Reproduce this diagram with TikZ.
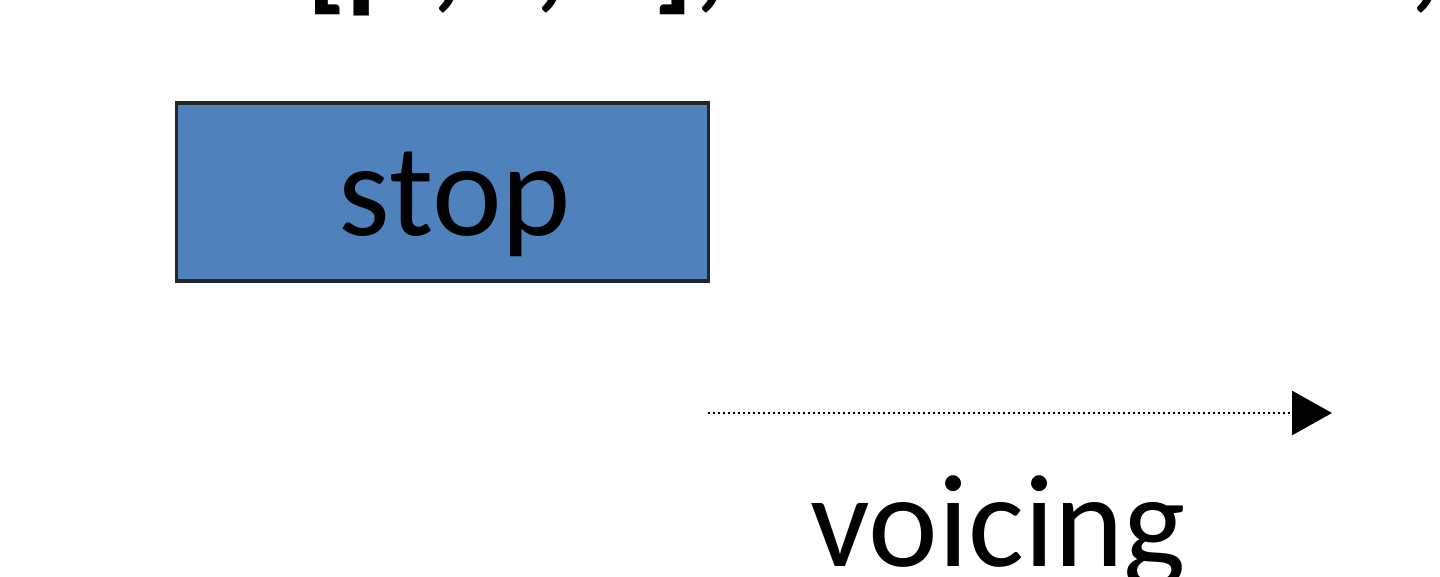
\documentclass[tikz,border=0pt]{standalone}
\usepackage{fontspec}
\setmainfont{Carlito}
\usetikzlibrary{arrows.meta, positioning}

\definecolor{boxblue}{HTML}{4F81BD}
\definecolor{boxline}{HTML}{262626}

\tikzset{
	phonebox/.style={draw=boxline, line width=1.6pt, fill=boxblue, rectangle,
		minimum width=266pt, minimum height=89pt, inner sep=0pt},
	bigtext/.style={font=\fontsize{66}{70}\selectfont, inner sep=0pt},
	toptext/.style={font=\fontsize{62}{66}\selectfont\bfseries, inner sep=0pt},
	axisline/.style={line width=1.4pt, dash pattern=on 1pt off 1.5pt,
		-{Triangle[length=20pt, width=22pt]}}
}

\begin{document}
\begin{tikzpicture}[x=0.5pt, y=-0.5pt]
			\useasboundingbox (0, 0) rectangle (1440, 577);
			\clip (0, 0) rectangle (1440, 577);
			
			\node[toptext, anchor=base west] (example) at (306, -3) {[p\kern9pt, t, k], are voiceless,};
			
			\node[phonebox] (stopbox) at (442.5, 192) {};
			\node[bigtext, anchor=base] (stoplabel) at (455, 236) {stop};
			
			\coordinate (vstart) at (708, 413);
			\coordinate (vend) at (1332, 413);
			\draw[axisline] (vstart) -- (vend);
			\node[bigtext, anchor=base] (voicing) at (998, 566) {voicing};
			\end{tikzpicture}
\end{document}
